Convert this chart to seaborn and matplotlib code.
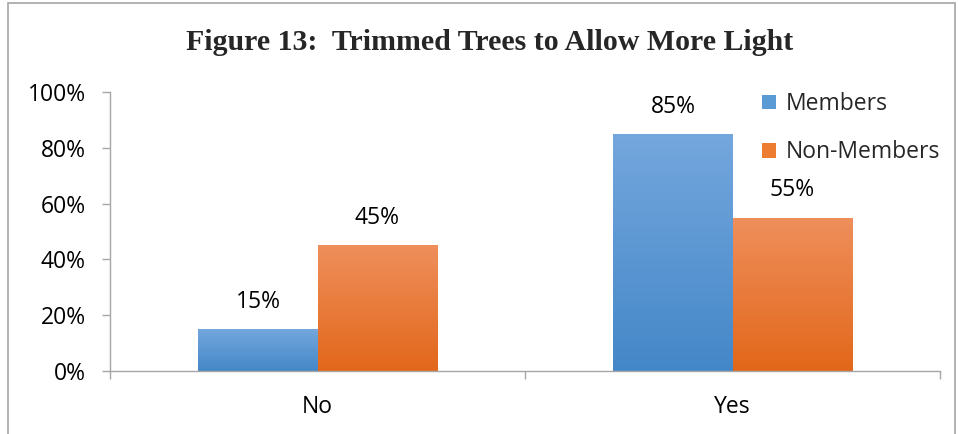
import numpy as np
import pandas as pd
import matplotlib
matplotlib.use("Agg")
import matplotlib.pyplot as plt
import seaborn as sns
from matplotlib.patches import Rectangle, Patch
from matplotlib.colors import LinearSegmentedColormap

categories = ["No", "Yes"]
series = ["Members", "Non-Members"]
members = [0.15, 0.85]
non_members = [0.45, 0.55]
ytick_vals = [0, 0.2, 0.4, 0.6, 0.8, 1.0]
ytick_labels = ["0%", "20%", "40%", "60%", "80%", "100%"]
title = "Figure 13:  Trimmed Trees to Allow More Light"

df = pd.DataFrame({
    "Response": categories * 2,
    "Group": [series[0]] * 2 + [series[1]] * 2,
    "Value": members + non_members,
})

sns.set_theme(style="white")
plt.rcParams["font.family"] = ["Open Sans", "DejaVu Sans"]

FS = 16.5
top_cols = {"Members": "#74A7DD", "Non-Members": "#EF8F5C"}
bot_cols = {"Members": "#4487C8", "Non-Members": "#E2671A"}
mid_cols = {"Members": "#5B9BD5", "Non-Members": "#ED7D31"}

fig = plt.figure(figsize=(9.58, 4.34), dpi=100)
ax = fig.add_axes([110/958, 1-371/434, 830/958, (371-92)/434])

sns.barplot(data=df, x="Response", y="Value", hue="Group", hue_order=series,
            palette=mid_cols, width=0.574, gap=0, saturation=1, ax=ax,
            legend=False, linewidth=0)

ax.set_xlim(-0.5, 1.5)
ax.set_ylim(0, 1.0)

# gradient fill on bars
for container, grp in zip(ax.containers, series):
    cmap = LinearSegmentedColormap.from_list(grp, [bot_cols[grp], top_cols[grp]])
    for bar, val in zip(container.patches, container.datavalues):
        x0, y0 = bar.get_x(), bar.get_y()
        w, h = bar.get_width(), bar.get_height()
        grad = np.linspace(0, 1, 256).reshape(-1, 1)
        im = ax.imshow(grad, extent=[x0, x0 + w, y0, y0 + h], origin="lower",
                       cmap=cmap, aspect="auto", zorder=bar.get_zorder())
        im.set_clip_path(bar)
        bar.set_alpha(0)
        ax.annotate(f"{val*100:.0f}%", (x0 + w/2, y0 + h), xytext=(0, 11),
                    textcoords="offset points", ha="center", va="bottom",
                    fontsize=FS, color="#000000")
ax.set_xlim(-0.5, 1.5)
ax.set_ylim(0, 1.0)

ax.set_yticks(ytick_vals)
ax.set_yticklabels(ytick_labels, fontsize=FS)
ax.set_xticks([0, 1])
ax.set_xticklabels(categories, fontsize=FS)
ax.set_xlabel("")
ax.set_ylabel("")

for s in ["top", "right"]:
    ax.spines[s].set_visible(False)
for s in ["left", "bottom"]:
    ax.spines[s].set_color("#A6A6A6")
    ax.spines[s].set_linewidth(1.0)

ax.tick_params(axis="y", which="both", left=True, length=5.8, color="#A6A6A6",
               width=1, pad=11.5, labelcolor="black")
ax.tick_params(axis="x", which="major", bottom=False, pad=11.5, labelcolor="black")
ax.set_xticks([-0.5, 0.5, 1.5], minor=True)
ax.tick_params(axis="x", which="minor", bottom=True, length=6, color="#A6A6A6", width=1)

handles = [Patch(facecolor=mid_cols[s], edgecolor="none", label=s) for s in series]
leg = ax.legend(handles=handles, loc="upper left", bbox_to_anchor=(0.7855, 0.999),
                frameon=False, fontsize=FS, handlelength=0.6, handleheight=0.6,
                handletextpad=0.45, labelspacing=1.05, borderaxespad=0, borderpad=0)

fig.text(490/958, 1-43/434, title, ha="center", va="center",
         fontsize=21.5, fontweight="bold", family=["Liberation Serif", "DejaVu Serif"])

fig.patches.append(Rectangle((8/958, -0.05), (955-8)/958, 1.05 - 3/434,
                             transform=fig.transFigure, fill=False,
                             edgecolor="#A6A6A6", linewidth=1.2))

fig.savefig("out.png", dpi=100)
